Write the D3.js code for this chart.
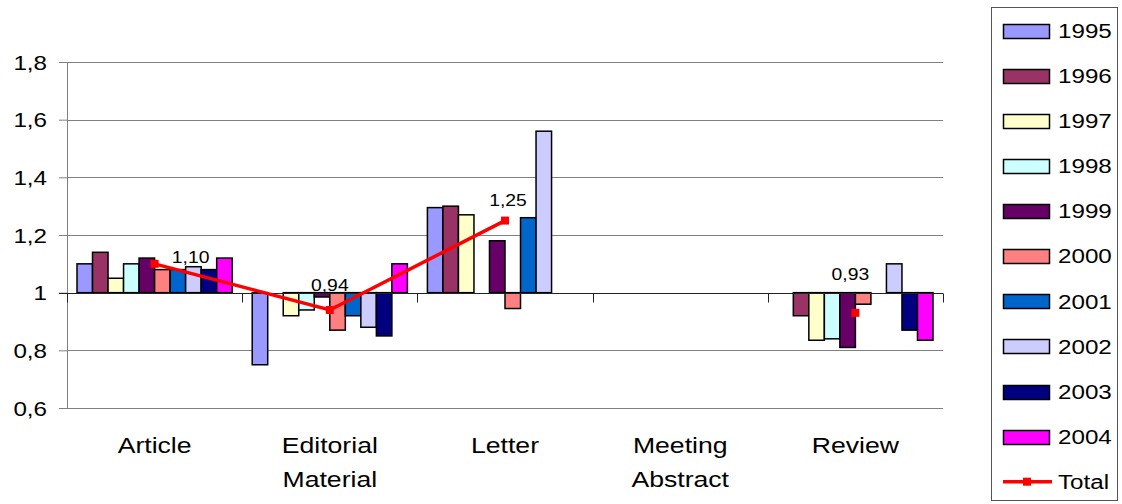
<!DOCTYPE html>
<html>
<head>
<meta charset="utf-8">
<script src="https://cdn.jsdelivr.net/npm/d3@7"></script>
<style>
  html, body { margin: 0; padding: 0; background: #fff; }
  svg { display: block; }
  text { font-family: "Liberation Sans", Arial, sans-serif; fill: #000; }
</style>
</head>
<body>
<svg id="chart" width="1122" height="504"></svg>
<script>
// Document types on the category axis
const categories = ["Article", "Editorial Material", "Letter", "Meeting Abstract", "Review"];
const years = ["1995", "1996", "1997", "1998", "1999", "2000", "2001", "2002", "2003", "2004"];

// Relative impact per year and document type (null = no value)
const v1995 = [1.10, 0.75, 1.295, null, null];
const v1996 = [1.14, null, 1.30, null, 0.92];
const v1997 = [1.05, 0.92, 1.27, null, 0.835];
const v1998 = [1.10, 0.94, null, null, 0.84];
const v1999 = [1.12, 0.985, 1.18, null, 0.81];
const v2000 = [1.08, 0.87, 0.945, null, 0.96];
const v2001 = [1.08, 0.92, 1.26, null, null];
const v2002 = [1.09, 0.88, 1.56, null, 1.10];
const v2003 = [1.08, 0.85, null, null, 0.87];
const v2004 = [1.12, 1.10, null, null, 0.835];
const total = [1.10, 0.94, 1.25, null, 0.93];

const tickValues = [0.6, 0.8, 1.0, 1.2, 1.4, 1.6, 1.8];
const tickLabels = ["0,6", "0,8", "1", "1,2", "1,4", "1,6", "1,8"];

const seriesValues = [v1995, v1996, v1997, v1998, v1999, v2000, v2001, v2002, v2003, v2004];
const colors = ["#9999FF", "#993366", "#FFFFCC", "#CCFFFF", "#660066",
                "#FF8080", "#0066CC", "#CCCCFF", "#000080", "#FF00FF"];
const baseValue = 1.0;
const stretch = 1.21; // horizontal text stretch

const svg = d3.select("#chart");
const plot = { left: 67, right: 943, top: 62, bottom: 408 };

const x = d3.scaleBand().domain(categories).range([plot.left, plot.right]).padding(0);
const xYear = d3.scaleBand().domain(years)
  .range([10, x.bandwidth() - 10]).padding(0);
const y = d3.scaleLinear().domain([0.6, 1.8]).range([plot.bottom, plot.top]);

// Horizontal gridlines
svg.append("g")
  .selectAll("line")
  .data(tickValues.filter(v => v !== baseValue))
  .join("line")
  .attr("x1", plot.left).attr("x2", plot.right)
  .attr("y1", d => Math.round(y(d)) + 0.5).attr("y2", d => Math.round(y(d)) + 0.5)
  .attr("stroke", "#808080").attr("stroke-width", 1);

// Value axis
const yAxis = svg.append("g")
  .attr("transform", `translate(${plot.left},0)`)
  .call(d3.axisLeft(y).tickValues(tickValues)
    .tickFormat((d, i) => tickLabels[i]).tickSizeOuter(0).tickSize(8).tickPadding(0));
yAxis.select(".domain").attr("stroke", "#808080");
yAxis.selectAll(".tick line").attr("stroke", "#808080");
yAxis.selectAll(".tick text")
  .attr("font-size", 20)
  .attr("x", -20 / stretch)
  .attr("dy", "0.36em")
  .attr("transform", `scale(${stretch},1)`)
  .style("font-family", "'Liberation Sans', Arial, sans-serif");

// Bars, drawn up or down from the base value 1
const barData = [];
seriesValues.forEach((vals, si) => {
  vals.forEach((v, ci) => {
    if (v !== null) barData.push({ year: years[si], cat: categories[ci], v, color: colors[si] });
  });
});
svg.append("g")
  .selectAll("rect")
  .data(barData)
  .join("rect")
  .attr("x", d => x(d.cat) + xYear(d.year))
  .attr("width", xYear.bandwidth())
  .attr("y", d => Math.min(y(d.v), y(baseValue)))
  .attr("height", d => Math.abs(y(d.v) - y(baseValue)))
  .attr("fill", d => d.color)
  .attr("stroke", "#000")
  .attr("stroke-width", 1.5);

// Category axis crossing at 1
const baseY = Math.round(y(baseValue)) + 0.5;
svg.append("line")
  .attr("x1", plot.left - 8).attr("x2", plot.right)
  .attr("y1", baseY).attr("y2", baseY)
  .attr("stroke", "#222").attr("stroke-width", 1);
const boundaries = categories.map(c => x(c)).concat([x.range()[1]]);
svg.append("g")
  .selectAll("line")
  .data(boundaries)
  .join("line")
  .attr("x1", d => Math.round(d) + 0.5).attr("x2", d => Math.round(d) + 0.5)
  .attr("y1", baseY).attr("y2", baseY + 9)
  .attr("stroke", "#222");

// Category labels (wrapped onto two lines)
const catLabels = svg.append("g")
  .selectAll("text")
  .data(categories)
  .join("text")
  .attr("transform", d => `translate(${x(d) + x.bandwidth() / 2},453) scale(${stretch},1)`)
  .attr("text-anchor", "middle")
  .attr("font-size", 22);
catLabels.each(function (d) {
  const words = d.split(" ");
  d3.select(this).selectAll("tspan")
    .data(words)
    .join("tspan")
    .attr("x", 0)
    .attr("y", (w, i) => i * 34)
    .text(w => w);
});

// Total line with markers
const cx = c => x(c) + x.bandwidth() / 2;
const totalPts = categories.map((c, i) => ({ c, v: total[i] }));
svg.append("path")
  .datum(totalPts)
  .attr("d", d3.line().defined(d => d.v !== null).x(d => cx(d.c)).y(d => y(d.v)))
  .attr("fill", "none")
  .attr("stroke", "#FF0000")
  .attr("stroke-width", 3.5);
svg.append("g")
  .selectAll("rect")
  .data(totalPts.filter(d => d.v !== null))
  .join("rect")
  .attr("x", d => cx(d.c) - 4).attr("y", d => y(d.v) - 4)
  .attr("width", 8).attr("height", 8)
  .attr("fill", "#FF0000");

// Total value labels
const labelOffsets = [[36, -7], [0, -25], [3, -20], [-5, -39]];
const fmt = v => v.toFixed(2).replace(".", ",");
svg.append("g")
  .selectAll("text")
  .data(totalPts.filter(d => d.v !== null))
  .join("text")
  .attr("transform", (d, i) =>
    `translate(${cx(d.c) + labelOffsets[i][0]},${y(d.v) + labelOffsets[i][1]}) scale(${stretch},1)`)
  .attr("text-anchor", "middle")
  .attr("dy", "0.36em")
  .attr("font-size", 16)
  .text(d => fmt(d.v));

// Legend
const legend = svg.append("g");
legend.append("rect")
  .attr("x", 991.5).attr("y", 7.5).attr("width", 126).attr("height", 493)
  .attr("fill", "#fff").attr("stroke", "#555").attr("stroke-width", 1);
const rowY = i => 30.7 + i * 45.1;
const items = legend.selectAll("g.item")
  .data(years)
  .join("g")
  .attr("class", "item");
items.append("rect")
  .attr("x", 1003.5).attr("y", (d, i) => Math.round(rowY(i) - 7) + 0.5)
  .attr("width", 46).attr("height", 14)
  .attr("fill", (d, i) => colors[i]).attr("stroke", "#000").attr("stroke-width", 1.5);
items.append("text")
  .attr("transform", (d, i) => `translate(1058,${rowY(i)}) scale(${stretch},1)`)
  .attr("dy", "0.36em")
  .attr("font-size", 20)
  .text(d => d);
const ty = rowY(years.length);
legend.append("line")
  .attr("x1", 1003).attr("x2", 1052).attr("y1", ty).attr("y2", ty)
  .attr("stroke", "#FF0000").attr("stroke-width", 3.5);
legend.append("rect")
  .attr("x", 1023).attr("y", ty - 4).attr("width", 8).attr("height", 8)
  .attr("fill", "#FF0000");
legend.append("text")
  .attr("transform", `translate(1058,${ty}) scale(${stretch},1)`)
  .attr("dy", "0.36em")
  .attr("font-size", 20)
  .text("Total");
</script>
</body>
</html>
